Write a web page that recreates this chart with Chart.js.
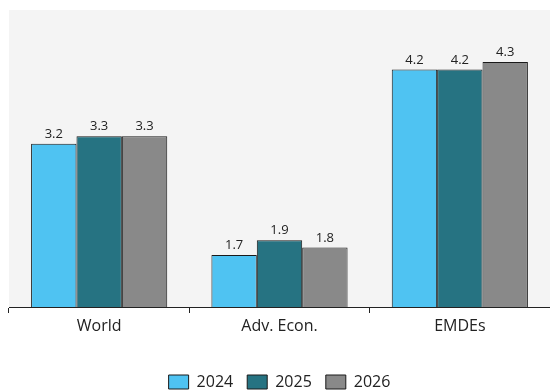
<!DOCTYPE html>
<html>
<head>
<meta charset="utf-8">
<script src="https://cdn.jsdelivr.net/npm/chart.js@4.4.1/dist/chart.umd.min.js"></script>
<style>
  html, body { margin: 0; padding: 0; background: #ffffff; }
  #wrap { width: 550px; height: 391px; position: relative; }
</style>
</head>
<body>
<div id="wrap"><canvas id="c" width="550" height="391"></canvas></div>
<script>
const categories = ["World", "Adv. Econ.", "EMDEs"];
const seriesNames = ["2024", "2025", "2026"];
const values2024 = [3.2, 1.7, 4.2];
const values2025 = [3.3, 1.9, 4.2];
const values2026 = [3.3, 1.8, 4.3];
const yMin = 1;
const yMax = 5;

const colors = ["#4fc3f2", "#267382", "#898989"];
const FONT = "'Open Sans', 'Noto Sans', sans-serif";

const plotBg = {
  id: 'plotBg',
  beforeDraw(chart) {
    const {ctx, chartArea: a} = chart;
    ctx.save();
    ctx.fillStyle = '#f4f4f4';
    ctx.fillRect(a.left, a.top, a.right - a.left, a.bottom - a.top);
    ctx.restore();
  }
};

const valueLabels = {
  id: 'valueLabels',
  afterDatasetsDraw(chart) {
    const ctx = chart.ctx;
    ctx.save();
    ctx.font = "13px " + FONT;
    ctx.fillStyle = '#222';
    ctx.textAlign = 'center';
    ctx.textBaseline = 'bottom';
    chart.data.datasets.forEach((ds, di) => {
      const meta = chart.getDatasetMeta(di);
      meta.data.forEach((el, i) => {
        ctx.fillText(ds.data[i].toFixed(1), el.x, el.y - 3);
      });
    });
    ctx.restore();
  }
};

new Chart(document.getElementById('c'), {
  type: 'bar',
  data: {
    labels: categories,
    datasets: [
      { label: seriesNames[0], data: values2024, backgroundColor: colors[0] },
      { label: seriesNames[1], data: values2025, backgroundColor: colors[1] },
      { label: seriesNames[2], data: values2026, backgroundColor: colors[2] }
    ].map(d => Object.assign(d, { borderColor: '#1a1a1a', borderWidth: 1, borderSkipped: 'bottom',
      categoryPercentage: 0.755, barPercentage: 1.0 }))
  },
  options: {
    responsive: false,
    animation: false,
    devicePixelRatio: 1,
    layout: { padding: { top: 10, left: 9, right: 0, bottom: -9 } },
    scales: {
      x: {
        grid: { display: true, offset: true, drawOnChartArea: false, tickLength: 6, color: '#222', lineWidth: 1 },
        border: { display: true, color: '#222', width: 1 },
        ticks: { font: { family: FONT, size: 16 }, color: '#222', padding: 4 },
        afterFit(scale) { scale.height = 53; }
      },
      y: {
        display: false,
        min: yMin,
        max: yMax
      }
    },
    plugins: {
      legend: {
        position: 'bottom',
        labels: {
          font: { family: FONT, size: 16 },
          color: '#222',
          boxWidth: 20,
          boxHeight: 14,
          padding: 14
        }
      },
      tooltip: { enabled: false }
    }
  },
  plugins: [plotBg, valueLabels]
});
</script>
</body>
</html>
